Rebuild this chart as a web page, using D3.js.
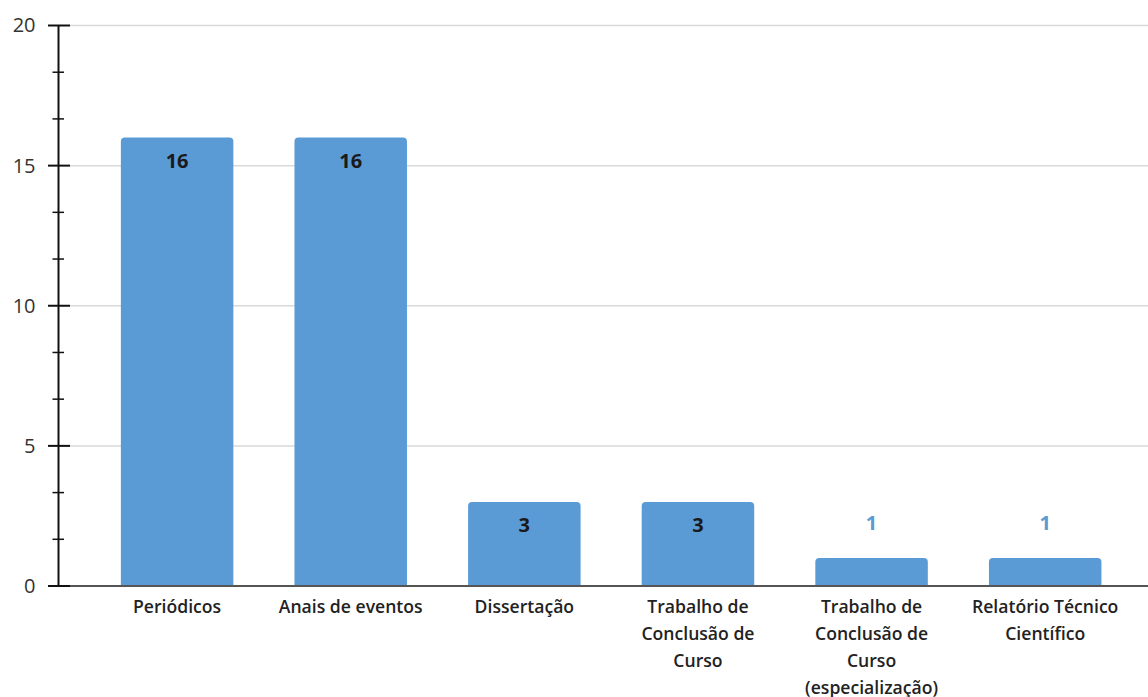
<!DOCTYPE html>
<html><head><meta charset="utf-8">
<script src="https://cdn.jsdelivr.net/npm/d3@7"></script>
<style>
html,body{margin:0;padding:0;background:#fff;}
svg{display:block;font-family:"Open Sans",sans-serif;}
</style></head>
<body>
<svg id="chart" width="1148" height="697"></svg>
<script>
const categories = ["Periódicos","Anais de eventos","Dissertação","Trabalho de Conclusão de Curso","Trabalho de Conclusão de Curso (especialização)","Relatório Técnico Científico"];
const categoryLines = [["Periódicos"],["Anais de eventos"],["Dissertação"],["Trabalho de","Conclusão de","Curso"],["Trabalho de","Conclusão de","Curso","(especialização)"],["Relatório Técnico","Científico"]];
const values = [16,16,3,3,1,1];
const yTicks = [0,5,10,15,20];
const yMinorTicks = [1.667,3.333,6.667,8.333,11.667,13.333,16.667,18.333];

const svg = d3.select("#chart");
const x = d3.scaleBand().domain(categories).range([90.3,1132]).paddingInner(0.352).paddingOuter(0.176);
const y = d3.scaleLinear().domain([0,20]).range([586,25.5]);
const axisX = 58.5;

// gridlines
svg.append("g").selectAll("line").data(yTicks.filter(d=>d>0)).join("line")
  .attr("x1",70).attr("x2",1148).attr("y1",d=>y(d)).attr("y2",d=>y(d))
  .attr("stroke","#d9d9d9").attr("stroke-width",1.5);

// bars with rounded top
const r = 4;
svg.append("g").selectAll("path").data(values).join("path")
  .attr("d",(d,i)=>{
    const x0 = x(categories[i]), w = x.bandwidth(), y0 = y(d), y1 = y(0);
    return `M${x0},${y1}V${y0+r}Q${x0},${y0} ${x0+r},${y0}H${x0+w-r}Q${x0+w},${y0} ${x0+w},${y0+r}V${y1}Z`;
  })
  .attr("fill","#5b9bd5");

// baseline
svg.append("line").attr("x1",48).attr("x2",1148).attr("y1",y(0)).attr("y2",y(0))
  .attr("stroke","#555").attr("stroke-width",2);

// y axis
const yAxis = d3.axisLeft(y).tickValues(yTicks).tickSize(0).tickPadding(0);
const gy = svg.append("g").attr("transform",`translate(${axisX},0)`).call(yAxis);
gy.select(".domain").remove();
gy.selectAll("text").attr("x",-23).attr("font-size",20).attr("fill","#333").attr("font-family","Open Sans, sans-serif");
svg.append("line").attr("x1",axisX).attr("x2",axisX).attr("y1",y(20)).attr("y2",y(0)).attr("stroke","#111").attr("stroke-width",2);
svg.append("g").selectAll("line").data(yTicks).join("line")
  .attr("x1",48).attr("x2",70).attr("y1",d=>y(d)).attr("y2",d=>y(d)).attr("stroke","#111").attr("stroke-width",2);
svg.append("g").selectAll("line").data(yMinorTicks).join("line")
  .attr("x1",52.5).attr("x2",64).attr("y1",d=>y(d)).attr("y2",d=>y(d)).attr("stroke","#111").attr("stroke-width",1.5);

// value labels
svg.append("g").selectAll("text").data(values).join("text")
  .attr("x",(d,i)=>x(categories[i])+x.bandwidth()/2)
  .attr("y",d=> d>=3 ? y(d)+30 : y(d)-28)
  .attr("text-anchor","middle").attr("font-size",20).attr("font-weight",700)
  .attr("fill",d=> d>=3 ? "#1a1a1a" : "#5b9bd5")
  .text(d=>d);

// category labels
const gl = svg.append("g");
categoryLines.forEach((lines,i)=>{
  const t = gl.append("text").attr("text-anchor","middle").attr("font-size",17.6).attr("font-weight",600).attr("fill","#222");
  lines.forEach((ln,j)=>{
    t.append("tspan").attr("x",x(categories[i])+x.bandwidth()/2).attr("y",613+27*j).text(ln);
  });
});
</script>
</body></html>
